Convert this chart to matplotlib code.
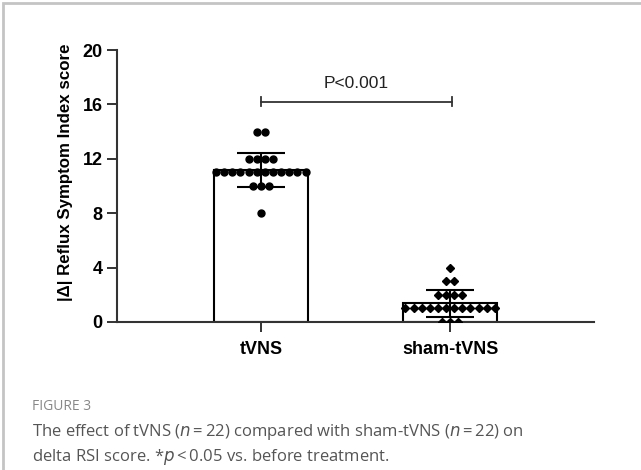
import numpy as np
import matplotlib.pyplot as plt
from matplotlib.patches import Rectangle

# data
groups = ['tVNS', 'sham-tVNS']
tvns_levels = [14, 12, 11, 10, 8]
tvns_counts = [2, 4, 12, 3, 1]
sham_levels = [4, 3, 2, 1, 0]
sham_counts = [1, 2, 4, 12, 3]
p_text = 'P<0.001'

plt.rcParams['font.family'] = ['Liberation Sans', 'DejaVu Sans']


def expand(levels, counts):
    vals = []
    for v, c in zip(levels, counts):
        vals += [v] * c
    return np.array(vals, dtype=float)


def swarm(levels, counts, step=0.043):
    # spread equal values sideways like a GraphPad scatter
    xs = []
    for c in counts:
        xs += list((np.arange(c) - (c - 1) / 2) * step)
    return np.array(xs)


fig = plt.figure(figsize=(6.41, 4.70), dpi=100)
ax = fig.add_axes([0.1825, 0.3149, 0.7442, 0.5787])

data = [expand(tvns_levels, tvns_counts), expand(sham_levels, sham_counts)]
offs = [swarm(tvns_levels, tvns_counts), swarm(sham_levels, sham_counts)]
markers = ['o', 'D']
msizes = [5, 3.8]

for i, vals in enumerate(data):
    m = vals.mean()
    sd = vals.std(ddof=1)
    ax.bar(i, m, width=0.5, color='white', edgecolor='black', linewidth=1.5, zorder=1)
    ax.errorbar(i, m, yerr=sd, fmt='none', ecolor='black', elinewidth=1.5,
                capsize=17, capthick=1.5, zorder=3)
    ax.plot(i + offs[i], vals, linestyle='none', marker=markers[i],
            markersize=msizes[i], color='black', zorder=4)

# significance bracket
yb = 16.2
ax.plot([0, 1.01], [yb, yb], color='#333333', lw=1.3, clip_on=False)
for xb in [0, 1.01]:
    ax.plot([xb, xb], [yb - 0.35, yb + 0.35], color='#333333', lw=1.3, clip_on=False)
ax.text(0.505, 17.0, p_text, ha='center', va='bottom', fontsize=12.5, color='#222222')

ax.set_xlim(-0.76, 1.76)
ax.set_ylim(0, 20)
ax.set_yticks([0, 4, 8, 12, 16, 20])
ax.set_xticks([0, 1])
ax.set_xticklabels(groups, fontsize=13, fontweight='bold')
for lab in ax.get_yticklabels():
    lab.set_fontsize(13)
    lab.set_fontweight('bold')
ax.tick_params(axis='both', direction='out', length=7.5, width=1.4, color='#333333', pad=3)
ax.tick_params(axis='x', pad=6)
ax.spines['top'].set_visible(False)
ax.spines['right'].set_visible(False)
for s in ['left', 'bottom']:
    ax.spines[s].set_linewidth(1.5)
    ax.spines[s].set_color('#333333')
ax.set_ylabel('|\u0394| Reflux Symptom Index score', fontsize=12.2, fontweight='bold')
ax.yaxis.set_label_coords(-0.093, 0.55)

# outer frame (only top and left edges are in view)
fig.patches.append(Rectangle((3 / 641, -0.1), 1.2, 1 - 3 / 470 + 0.1, transform=fig.transFigure,
                             fill=False, edgecolor='#c4c4c4', linewidth=2))

cap_font = ['Open Sans', 'DejaVu Sans']
fig.text(32 / 641, 1 - 407 / 470, 'FIGURE 3', fontsize=10, color='#888888',
         family=cap_font, va='center')
fig.text(32 / 641, 1 - 432 / 470,
         'The effect of tVNS ($\\mathit{n}$\u2009=\u200922) compared with sham-tVNS ($\\mathit{n}$\u2009=\u200922) on',
         fontsize=12, color='#555555', family=cap_font, va='center')
fig.text(32 / 641, 1 - 457 / 470,
         'delta RSI score. *$\\mathit{p}$\u2009<\u20090.05 vs. before treatment.',
         fontsize=12, color='#555555', family=cap_font, va='center')

fig.savefig('out.png', dpi=100)
